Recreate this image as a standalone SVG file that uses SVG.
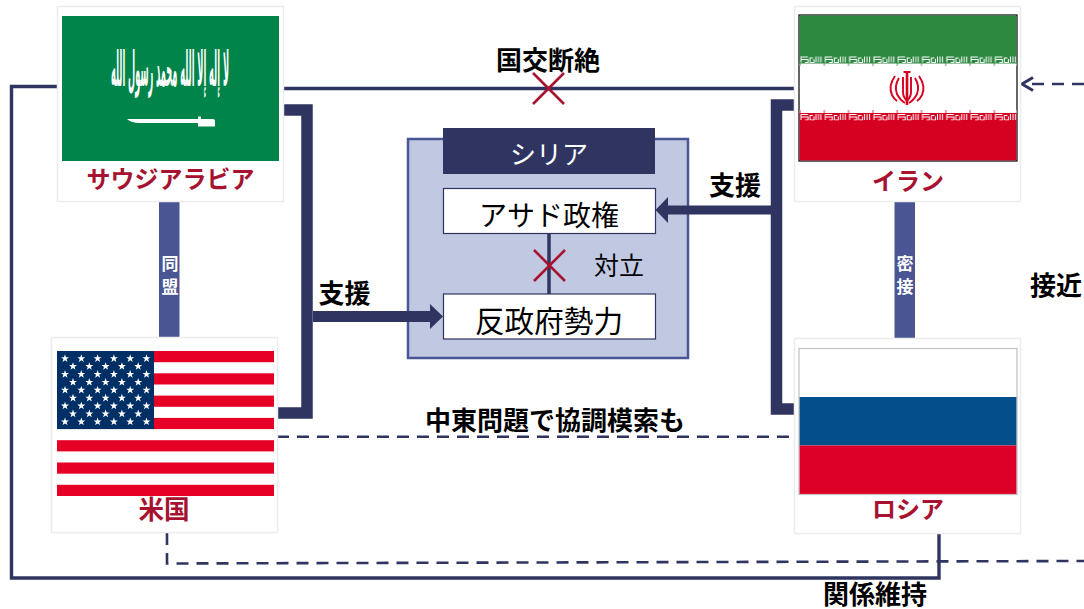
<svg xmlns="http://www.w3.org/2000/svg" xmlns:xlink="http://www.w3.org/1999/xlink" width="1084" height="609" viewBox="0 0 1084 609">
<style>
text{font-family:"Noto Sans CJK JP","Noto Sans CJK SC",sans-serif;text-anchor:middle}
.lb{font-size:26px;font-weight:700;fill:#000}
.nm{font-size:24px;font-weight:700;fill:#a6122f}
.in{font-size:28px;font-weight:400;fill:#000}
.bar{font-size:17px;font-weight:700;fill:#fff}
.card{fill:#fff;stroke:#ececec;stroke-width:1.5}
.thin{fill:none;stroke:#2f3560;stroke-width:3.4}
.dash{fill:none;stroke:#2f3560;stroke-width:2.6;stroke-dasharray:12 8}
.thick{fill:none;stroke:#2f3560;stroke-width:11.5}
.x{fill:none;stroke:#a6122f;stroke-width:2.6}
.hd{fill:#2f3560}
</style>
<defs>
<polygon id="s" points="0,-4.2 1,-1.3 4,-1.3 1.6,.5 2.5,3.4 0,1.7 -2.5,3.4 -1.6,.5 -4,-1.3 -1,-1.3" fill="#fff"/>
<g id="r6"><use xlink:href="#s" x="0"/><use xlink:href="#s" x="16.3"/><use xlink:href="#s" x="32.6"/><use xlink:href="#s" x="48.9"/><use xlink:href="#s" x="65.2"/><use xlink:href="#s" x="81.5"/></g>
<g id="r5"><use xlink:href="#s" x="0"/><use xlink:href="#s" x="16.3"/><use xlink:href="#s" x="32.6"/><use xlink:href="#s" x="48.9"/><use xlink:href="#s" x="65.2"/></g>
<pattern id="kg" width="24.300" height="11" patternUnits="userSpaceOnUse" x="799" y="55">
<rect width="24.300" height="11" fill="#fff"/>
<rect width="24.300" height="8.500" fill="#2d8840"/>
<rect x="0.600" width="0.800" height="11" fill="#2d8840"/>
<path d="M2 7.500V2H9M2 4.500H9V7.500H6M11 7.500H15V4M17 7.500V1.500M19.500 7.500V1.500M22 7.500V1.500M11 7.500V3H14" fill="none" stroke="#fff" stroke-width="1"/>
</pattern>
<pattern id="kr" width="24.300" height="11" patternUnits="userSpaceOnUse" x="799" y="110">
<rect width="24.300" height="11" fill="#fff"/>
<rect y="3" width="24.300" height="8" fill="#d60021"/>
<rect x="0.600" width="0.800" height="4" fill="#d60021"/>
<path d="M2 10V4.500H9M2 7H9V10H6M11 10H15V6.500M17 10V4M19.500 10V4M22 10V4M11 10V5.500H14" fill="none" stroke="#fff" stroke-width="1"/>
</pattern>
</defs>

<g id="connectors">
<path class="thin" d="M283 88.500H794"/>
<path class="thin" d="M57 86.500H11.500V578H939V534"/>
<path class="thick" d="M283 110H307V413H277"/>
<path class="thick" d="M794 105H776.500V409H794"/>
<rect x="159" y="201" width="20.500" height="137" fill="#4a5694"/>
<rect x="894.500" y="201" width="20.500" height="138" fill="#4a5694"/>
<path class="dash" d="M277 436.700H794"/>
<path class="dash" d="M167 533V563.500L1084 561"/>
<path class="dash" stroke-dasharray="10.500 9.500" d="M1084 84H1032"/>
<path fill="none" stroke="#2f3560" stroke-width="3" d="M1033 77.500L1022 84L1033 90.500"/>
<path class="x" d="M533 73L564 104M564 73L533 104"/>
</g>
<text class="lb" x="548" y="70">国交断絶</text>
<text class="lb" x="344.500" y="303">支援</text>
<text class="lb" x="735" y="195">支援</text>
<text class="lb" x="555" y="430">中東問題で協調模索も</text>
<text class="lb" x="875" y="604">関係維持</text>
<text class="lb" x="1056" y="295">接近</text>
<text class="bar" x="170" y="270">同</text>
<text class="bar" x="170" y="293">盟</text>
<text class="bar" x="905" y="270">密</text>
<text class="bar" x="905" y="293">接</text>

<g id="node-saudi">
<rect class="card" x="57.500" y="6.500" width="226" height="195"/>
<rect x="62" y="16" width="217" height="145" fill="#00844a"/>
<text transform="translate(170 86) scale(1 2.100)" font-size="23" font-weight="700" fill="#fff" direction="rtl" style="font-family:'DejaVu Sans',sans-serif" textLength="118" lengthAdjust="spacingAndGlyphs">لا إله إلا الله محمد رسول الله</text>
<path d="M127 119H198V116.500H201V119H213Q215 119 215 121V126.500H198V123H140Q131 123 127 119Z" fill="#fff"/>
<text class="nm" x="170.500" y="188">サウジアラビア</text>
</g>

<g id="node-iran">
<rect class="card" x="794.500" y="6.500" width="226" height="195"/>
<rect x="799" y="15" width="218" height="146" fill="#fff" stroke="#000" stroke-width="1.200"/>
<rect x="799.600" y="15.600" width="216.800" height="39.600" fill="#2d8840"/>
<rect x="799.600" y="55" width="216.800" height="11" fill="url(#kg)"/>
<rect x="799.600" y="110" width="216.800" height="11" fill="url(#kr)"/>
<rect x="799.600" y="120.500" width="216.800" height="39.900" fill="#d60021"/>
<path d="M907 73V105" fill="none" stroke="#d60021" stroke-width="2.600"/>
<path d="M903.500 72H910.500M903 77V92Q903 97 907 101Q911 97 911 92V77M899 78Q894 86 897 94Q900 100 905 103M915 78Q920 86 917 94Q914 100 909 103M895 76Q888 86 892 95Q894 99 897 101M919 76Q926 86 922 95Q920 99 917 101" fill="none" stroke="#d60021" stroke-width="1.900"/>
<text class="nm" x="908" y="190">イラン</text>
</g>

<g id="node-usa">
<rect class="card" x="51.500" y="337.500" width="226" height="195"/>
<rect x="57" y="351" width="217" height="145" fill="#fff"/>
<g fill="#e60026">
<rect x="154" y="351" width="120" height="11.200"/>
<rect x="154" y="373.300" width="120" height="11.200"/>
<rect x="154" y="395.600" width="120" height="11.200"/>
<rect x="154" y="417.900" width="120" height="11.200"/>
<rect x="57" y="440.200" width="217" height="11.200"/>
<rect x="57" y="462.500" width="217" height="11.200"/>
<rect x="57" y="484.800" width="217" height="11.200"/>
</g>
<rect x="57" y="351" width="97" height="78.100" fill="#002f66"/>
<use xlink:href="#r6" x="65" y="358.500"/>
<use xlink:href="#r5" x="73" y="366.400"/>
<use xlink:href="#r6" x="65" y="374.300"/>
<use xlink:href="#r5" x="73" y="382.200"/>
<use xlink:href="#r6" x="65" y="390.100"/>
<use xlink:href="#r5" x="73" y="398"/>
<use xlink:href="#r6" x="65" y="405.900"/>
<use xlink:href="#r5" x="73" y="413.800"/>
<use xlink:href="#r6" x="65" y="421.700"/>
<text class="nm" x="164" y="519" style="font-size:25.600px">米国</text>
</g>

<g id="node-russia">
<rect class="card" x="794.500" y="338.500" width="226" height="195"/>
<rect x="799" y="348.500" width="218" height="146" fill="#fff" stroke="#c0c0c0" stroke-width="1.200"/>
<rect x="799.600" y="397" width="216.800" height="48.500" fill="#034f8a"/>
<rect x="799.600" y="445.500" width="216.800" height="48.400" fill="#dc0028"/>
<text class="nm" x="908" y="518">ロシア</text>
</g>

<g id="node-syria">
<rect x="408" y="139" width="280" height="219" fill="#c1c8e2" stroke="#4a5694" stroke-width="2.500"/>
<rect class="hd" x="443" y="128" width="212" height="46"/>
<text x="549" y="164" style="font-size:26px;fill:#fff">シリア</text>
<rect x="443.500" y="188.500" width="212" height="45" fill="#fff" stroke="#2f3560" stroke-width="1.200"/>
<rect x="443.500" y="294" width="212" height="45" fill="#fff" stroke="#2f3560" stroke-width="1.200"/>
<path d="M549 233.500V294" stroke="#2f3560" stroke-width="3.500" fill="none"/>
<path class="x" d="M534 250L565 281M565 250L534 281"/>
<text class="in" x="549" y="226">アサド政権</text>
<text class="in" x="549" y="332" style="font-size:29.600px">反政府勢力</text>
<text x="619" y="275" style="font-size:25px;fill:#000">対立</text>
</g>

<g id="connectors-front">
<path d="M313 316.500H431" fill="none" stroke="#2f3560" stroke-width="11"/>
<polygon class="hd" points="430,304 443,316.500 430,329"/>
<path d="M771 210H667" fill="none" stroke="#2f3560" stroke-width="9"/>
<polygon class="hd" points="668,197 655.500,210 668,223"/>
</g>
</svg>
